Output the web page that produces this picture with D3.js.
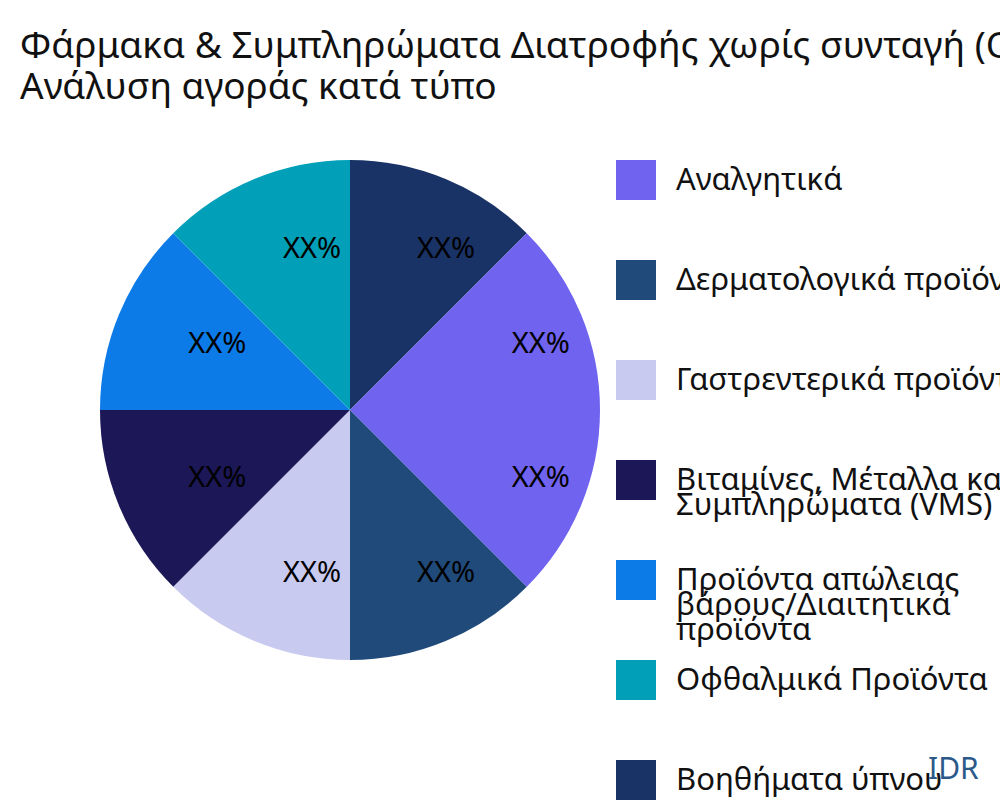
<!DOCTYPE html>
<html><head><meta charset="utf-8">
<script src="https://cdn.jsdelivr.net/npm/d3@7"></script>
<style>body{margin:0;background:#fff;font-family:"Noto Sans",sans-serif;}</style>
</head><body>
<script>
// legend categories and colours
const categories = ["Αναλγητικά", "Δερματολογικά προϊόντα", "Γαστρεντερικά προϊόντα",
  "Βιταμίνες, Μέταλλα και|Συμπληρώματα (VMS)", "Προϊόντα απώλειας|βάρους/Διαιτητικά|προϊόντα",
  "Οφθαλμικά Προϊόντα", "Βοηθήματα ύπνου"];
const colors = ["#7063F0", "#1F4A7A", "#C8CAF0", "#1C1757", "#0C7BE8", "#01A0B8", "#1A3366"];
// slices clockwise from 12 o'clock (category index)
const sliceCat = [6, 0, 0, 1, 2, 3, 4, 5];
const sliceVal = [12.5, 12.5, 12.5, 12.5, 12.5, 12.5, 12.5, 12.5];

const svg = d3.select("body").append("svg").attr("width", 1000).attr("height", 800);

svg.append("text").attr("x", 20).attr("y", 58).attr("font-size", 37).attr("fill", "#111")
  .text("Φάρμακα & Συμπληρώματα Διατροφής χωρίς συνταγή (OTC)");
svg.append("text").attr("x", 20).attr("y", 99).attr("font-size", 37).attr("fill", "#111")
  .text("Ανάλυση αγοράς κατά τύπο");

const g = svg.append("g").attr("transform", "translate(350,410)");
const pie = d3.pie().sort(null).value(d => d.v);
const arcs = pie(sliceVal.map((v, i) => ({v, c: sliceCat[i]})));
const arc = d3.arc().innerRadius(0).outerRadius(250);
const labelArc = d3.arc().innerRadius(175).outerRadius(175);

g.selectAll("path").data(arcs).join("path")
  .attr("d", arc).attr("fill", d => colors[d.data.c]);
g.selectAll("text").data(arcs).join("text")
  .attr("transform", d => `translate(${labelArc.centroid(d)})`)
  .attr("text-anchor", "start").attr("dy", "0.35em")
  .attr("font-size", 29).attr("fill", "#000").text("XX%");

const leg = svg.append("g").selectAll("g").data(categories).join("g")
  .attr("transform", (d, i) => `translate(616,${160 + i * 100})`);
leg.append("rect").attr("width", 40).attr("height", 40).attr("fill", (d, i) => colors[i]);
leg.append("text").attr("x", 60).attr("y", 30).attr("font-size", 31).attr("fill", "#111")
  .selectAll("tspan").data(d => d.split("|")).join("tspan")
  .attr("x", 60).attr("dy", (d, i) => i ? 25 : 0).text(d => d);

svg.append("text").attr("x", 928).attr("y", 779).attr("font-size", 30)
  .attr("fill", "#2B5A8A").text("IDR");
</script>
</body></html>
